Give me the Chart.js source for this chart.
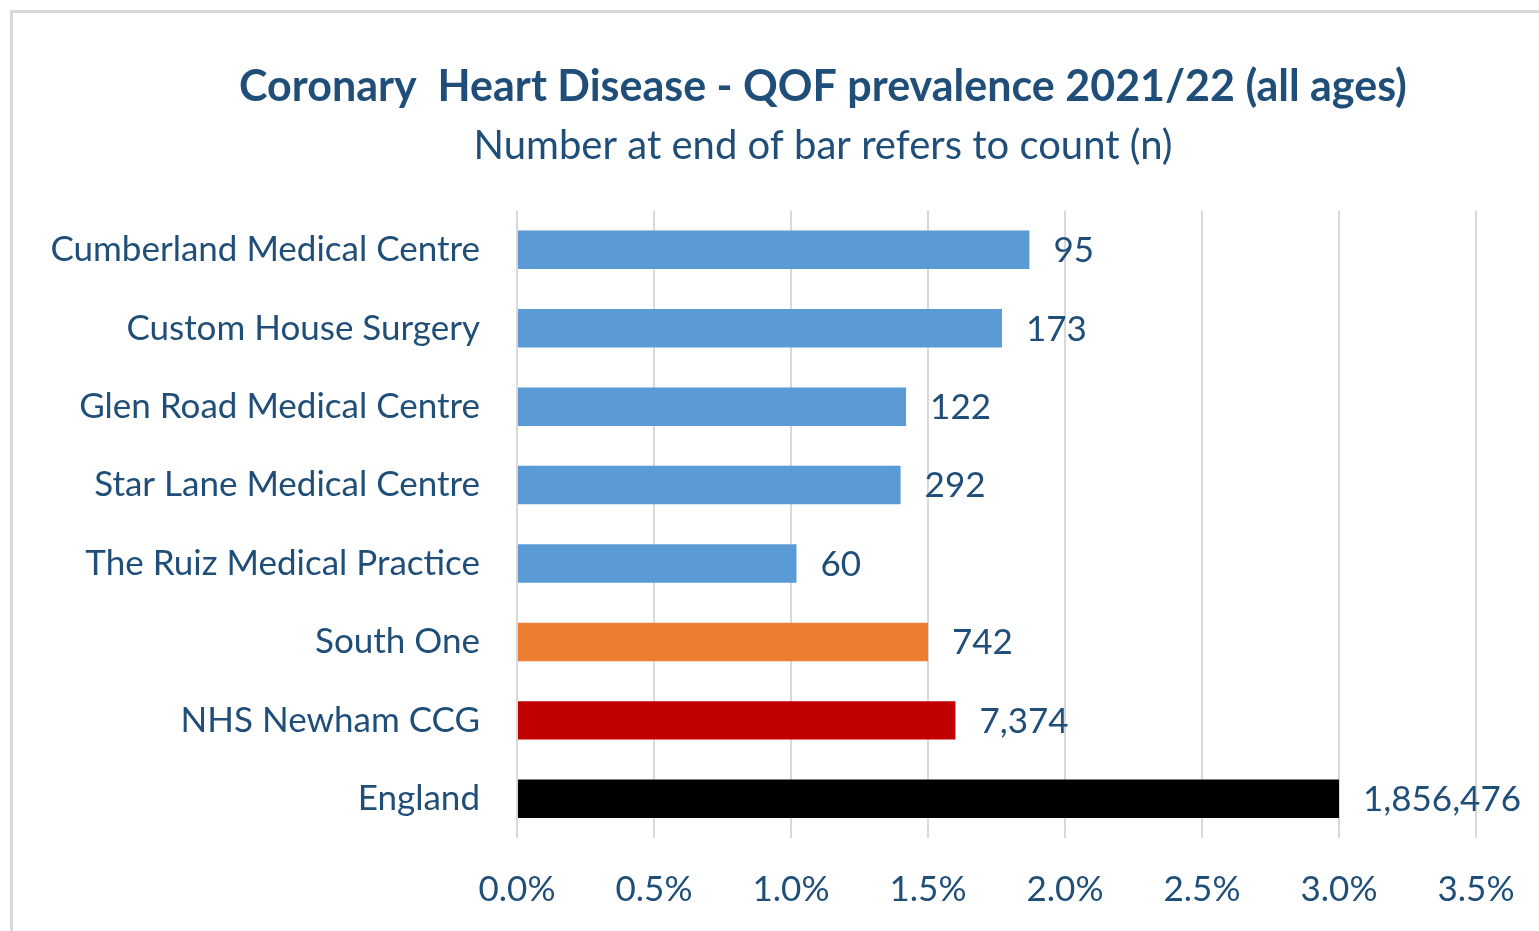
<!DOCTYPE html>
<html>
<head>
<meta charset="utf-8">
<title>Coronary Heart Disease - QOF prevalence 2021/22</title>
<script src="https://cdn.jsdelivr.net/npm/chart.js@4/dist/chart.umd.min.js"></script>
<style>
  html, body { margin:0; padding:0; background:#fff; overflow:hidden; }
  #frame { position:absolute; left:10px; top:10px; width:1626px; height:965px; border:3px solid #d9d9d9; box-sizing:border-box; background:#fff; }
  #frame canvas { display:block; }
</style>
</head>
<body>
<div id="frame"><canvas id="chdChart" width="1620" height="953"></canvas></div>
<script>
// ---- data ----
const practices  = ['Cumberland Medical Centre', 'Custom House Surgery', 'Glen Road Medical Centre',
                    'Star Lane Medical Centre', 'The Ruiz Medical Practice', 'South One',
                    'NHS Newham CCG', 'England'];
const prevalence = [1.87, 1.77, 1.42, 1.40, 1.02, 1.50, 1.60, 3.00];   // % of registered list
const counts     = [95, 173, 122, 292, 60, 742, 7374, 1856476];          // n shown at end of bar
const barColours = ['#5b9bd5', '#5b9bd5', '#5b9bd5', '#5b9bd5', '#5b9bd5', '#ed7d31', '#c00000', '#000000'];
const xTicks     = [0, 0.5, 1.0, 1.5, 2.0, 2.5, 3.0, 3.5];

const TEXT = '#1f4e79';
const FONT = 'Lato';
const RIGHT_PAD = 157;

// count labels drawn just past the end of each bar
const countLabels = {
  id: 'countLabels',
  afterDatasetsDraw(chart) {
    const ctx = chart.ctx;
    const meta = chart.getDatasetMeta(0);
    ctx.save();
    ctx.font = `35px ${FONT}`;
    ctx.fillStyle = TEXT;
    ctx.textAlign = 'left';
    ctx.textBaseline = 'middle';
    meta.data.forEach((bar, i) => {
      ctx.fillText(counts[i].toLocaleString('en-GB'), bar.x + 24, bar.y + 1);
    });
    ctx.restore();
  }
};

// centre title + subtitle on the whole frame, not on the padded area
const centreTitles = {
  id: 'centreTitles',
  afterLayout(chart) {
    const TitleEl = Chart.Title._element;
    chart.boxes.forEach(b => {
      if (b instanceof TitleEl) { b.left = RIGHT_PAD; b.width = b.right - b.left; }
    });
  }
};

new Chart(document.getElementById('chdChart'), {
  type: 'bar',
  data: {
    labels: practices,
    datasets: [{
      data: prevalence,
      backgroundColor: barColours,
      borderWidth: 0,
      barPercentage: 0.49,
      categoryPercentage: 1.0
    }]
  },
  options: {
    indexAxis: 'y',
    responsive: false,
    animation: false,
    layout: { padding: { top: 0, right: RIGHT_PAD, bottom: 24, left: 0 } },
    plugins: {
      legend: { display: false },
      tooltip: { enabled: false },
      title: {
        display: true,
        text: 'Coronary  Heart Disease - QOF prevalence 2021/22 (all ages)',
        color: TEXT,
        font: { family: FONT, size: 43, weight: 'bold', lineHeight: 1.2 },
        padding: { top: 48, bottom: 0 }
      },
      subtitle: {
        display: true,
        text: 'Number at end of bar refers to count (n)',
        color: TEXT,
        font: { family: FONT, size: 40, lineHeight: 1.2 },
        padding: { top: 9, bottom: 41 }
      }
    },
    scales: {
      x: {
        min: 0,
        max: 3.5,
        afterBuildTicks: s => { s.ticks = xTicks.map(v => ({ value: v })); },
        ticks: {
          color: TEXT,
          font: { family: FONT, size: 35 },
          padding: 31,
          callback: v => Number(v).toFixed(1) + '%'
        },
        grid: { color: '#d9d9d9', lineWidth: 2, drawTicks: false },
        border: { display: false }
      },
      y: {
        afterFit: s => { s.width = 504; },
        ticks: {
          color: TEXT,
          font: { family: FONT, size: 35 },
          padding: 37
        },
        grid: { display: false, drawTicks: false },
        border: { display: false }
      }
    }
  },
  plugins: [countLabels, centreTitles]
});
</script>
</body>
</html>
